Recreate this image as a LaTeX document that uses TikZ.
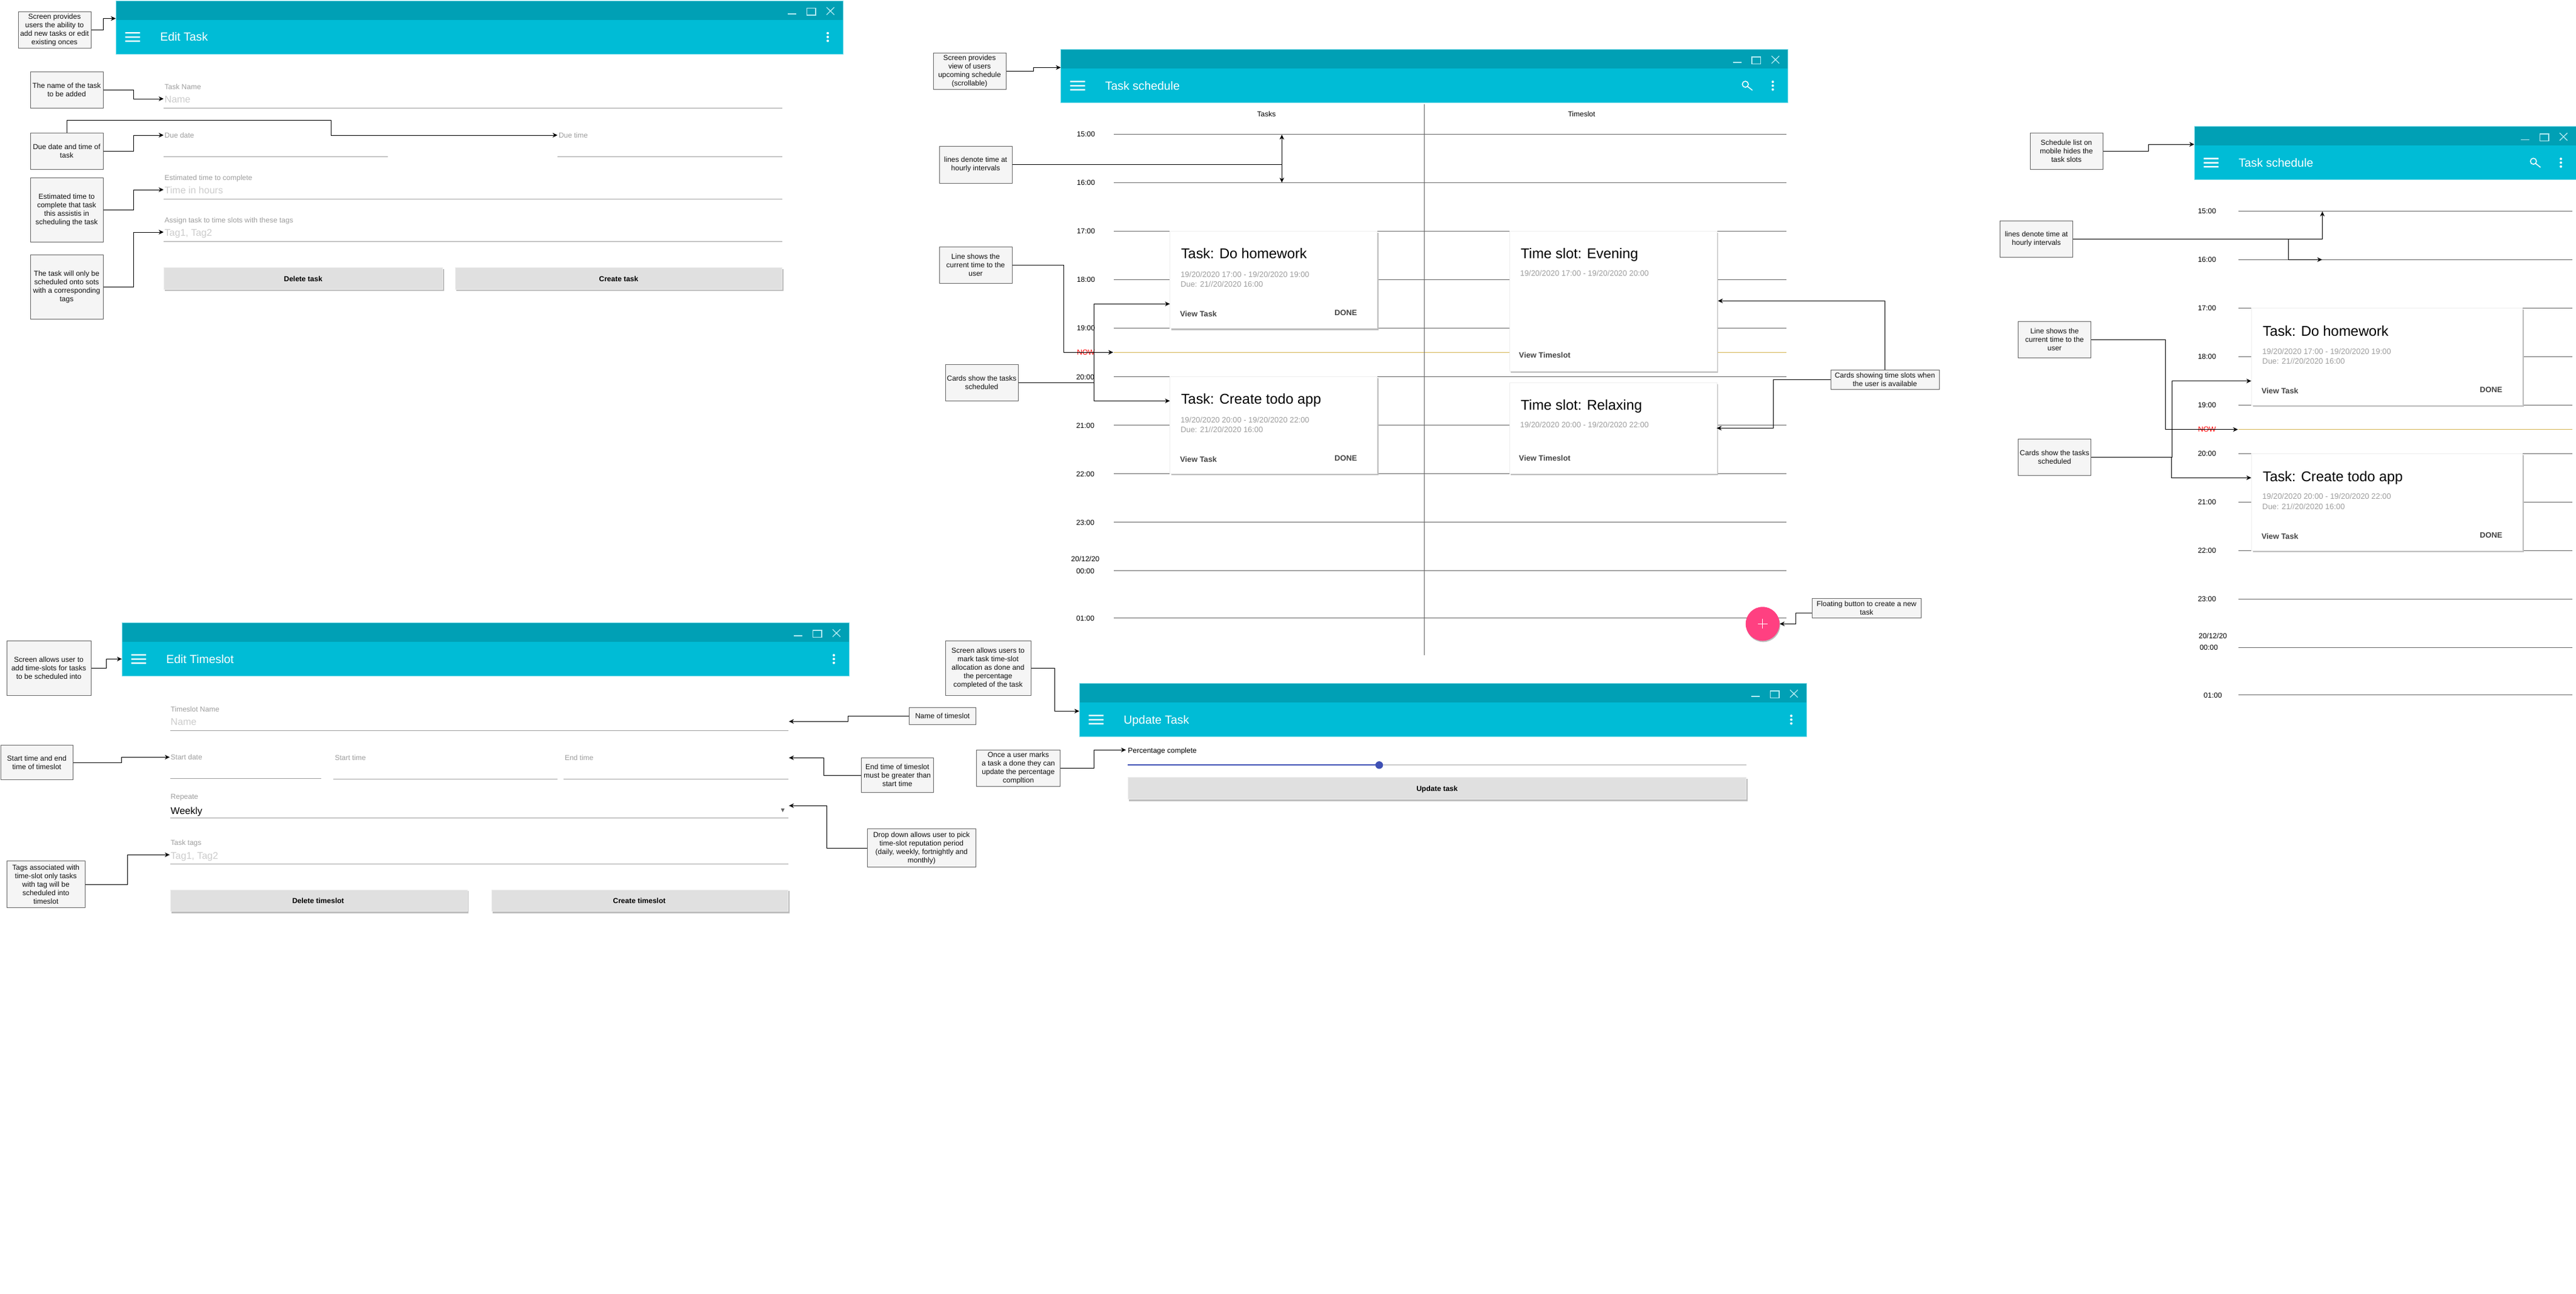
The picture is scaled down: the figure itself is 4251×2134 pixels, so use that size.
\documentclass[tikz,border=0pt]{standalone}
\usepackage{fontspec}
\setmainfont{Liberation Sans}
\usetikzlibrary{arrows.meta}
\definecolor{barDark}{HTML}{00A0B5}
\definecolor{barLight}{HTML}{00BCD6}
\definecolor{barEdge}{HTML}{80DEEA}
\definecolor{winIcon}{HTML}{B2EBF2}
\definecolor{noteFill}{HTML}{F5F5F5}
\definecolor{noteLine}{HTML}{666666}
\definecolor{hourLine}{HTML}{666666}
\definecolor{nowLine}{HTML}{D6B656}
\definecolor{labelGrey}{HTML}{9E9E9E}
\definecolor{holdGrey}{HTML}{CCCCCC}
\definecolor{shadeGrey}{HTML}{BDBDBD}
\definecolor{btnGrey}{HTML}{E0E0E0}
\definecolor{cardEdge}{HTML}{EEEEEE}
\definecolor{actionGrey}{HTML}{444444}
\definecolor{fabPink}{HTML}{FF4081}
\definecolor{slideBlue}{HTML}{3F51B5}
\definecolor{noteText}{HTML}{111111}
\tikzset{
  conn/.style={draw=black,line width=1pt,-{Stealth[length=8pt,width=7.5pt,inset=2.5pt]}},
  note/.style={draw=noteLine,fill=noteFill,line width=1pt,inner sep=0pt,align=center,text=noteText,
    font=\fontsize{12}{14}\selectfont},
  hourrule/.style={draw=hourLine,line width=1pt},
  fieldrule/.style={draw=labelGrey,line width=1pt},
  txt/.style={inner sep=0pt,outer sep=0pt}
}
\newcount\lblc
\newcommand\lbl[5]{\global\advance\lblc by 1
  \pgfmathsetmacro\by{#2+0.36*#3}
  \node[txt,anchor=base west,text=#4,font=\fontsize{#3}{#3}\selectfont,name=lb\the\lblc] at (#1,\by) {#5};}
\newcommand\clbl[5]{\global\advance\lblc by 1
  \pgfmathsetmacro\by{#2+0.36*#3}
  \node[txt,anchor=base,text=#4,font=\fontsize{#3}{#3}\selectfont,name=lb\the\lblc] at (#1,\by) {#5};}
\newcommand\callout[6]{\pgfmathsetmacro\cw{#4-#2}\pgfmathsetmacro\ch{#5-#3}
  \node[note,minimum width=\cw pt,minimum height=\ch pt] (#1) at ({(#2+#4)/2},{(#3+#5)/2}) {#6};}
% app bar: name, left, top, width, title, search(1/0)
\newcommand\appbar[6]{\pgfmathsetmacro\xr{#2+#4}\pgfmathsetmacro\yb{#3+88}\pgfmathsetmacro\ym{#3+32}
  \fill[barLight] (#2,#3) rectangle (\xr,\yb);
  \fill[barDark] (#2,#3) rectangle (\xr,\ym);
  \draw[barEdge,line width=1pt] (#2,#3) rectangle (\xr,\yb);
  \begin{scope}[shift={(\xr,#3)}]
    \draw[winIcon,line width=1.7pt] (-91,22) -- (-76.6,22);
    \draw[winIcon,line width=1.5pt] (-59.6,12.7) rectangle (-45,24);
    \draw[winIcon,line width=1.3pt] (-27,11) -- (-14.3,23.4) (-14.3,11) -- (-27,23.4);
    \fill[white] (-25,53.7) circle (2) (-25,60) circle (2) (-25,66.4) circle (2);
    \ifnum#6=1
      \draw[white,line width=1.5pt] (-70.3,57.7) circle (5);
      \draw[white,line width=1.5pt] (-66.7,61.3) -- (-58.6,67.7);
    \fi
  \end{scope}
  \begin{scope}[shift={(#2,#3)}]
    \fill[white] (15.6,52) rectangle (40,54.4) (15.6,59) rectangle (40,61.4) (15.6,65.5) rectangle (40,68);
  \end{scope}
  \pgfmathsetmacro\tx{#2+73.4}\pgfmathsetmacro\ty{#3+60}
  \lbl{\tx}{\ty}{19.4}{white}{#5}
}
\newcommand\card[4]{\pgfmathsetmacro\sa{#1+2}\pgfmathsetmacro\sb{#2+2.5}\pgfmathsetmacro\sc{#3+2}\pgfmathsetmacro\sd{#4+2.8}
  \fill[shadeGrey] (\sa,\sb) rectangle (\sc,\sd);
  \draw[cardEdge,fill=white,line width=1pt] (#1,#2) rectangle (#3,#4);}
\newcommand\button[6]{\pgfmathsetmacro\sa{#1+2}\pgfmathsetmacro\sb{#2+2}\pgfmathsetmacro\sc{#3+2}\pgfmathsetmacro\sd{#4+3.2}
  \fill[shadeGrey] (\sa,\sb) rectangle (\sc,\sd);
  \draw[cardEdge,fill=btnGrey,line width=1pt] (#1,#2) rectangle (#3,#4);
  \pgfmathsetmacro\byy{(#2+#4)/2+0.7}
  \clbl{#5}{\byy}{12}{black}{\bfseries #6}}
\begin{document}
\begin{tikzpicture}[x=1pt,y=-1pt]
\useasboundingbox (0,0) rectangle (4251,2134);
\fill[white] (0,0) rectangle (4251,2134);

%================ Edit Task
\appbar{barA}{191}{1}{1200}{Edit Task}{0}
\lbl{271.7}{143}{12}{labelGrey}{Task Name}
\lbl{271.7}{164}{16}{holdGrey}{Name}
\draw[fieldrule] (270,178) -- (1290.8,178);
\lbl{271.7}{223}{12}{labelGrey}{Due date}
\draw[fieldrule] (270,258) -- (640.4,258);
\lbl{922}{223}{12}{labelGrey}{Due time}
\draw[fieldrule] (920,258) -- (1290.8,258);
\lbl{271.7}{293}{12}{labelGrey}{Estimated time to complete}
\lbl{271.7}{314}{16}{holdGrey}{Time in hours}
\draw[fieldrule] (270,328) -- (1290.8,328);
\lbl{271.7}{363}{12}{labelGrey}{Assign task to time slots with these tags}
\lbl{271.7}{384}{16}{holdGrey}{Tag1, Tag2}
\draw[fieldrule] (270,398) -- (1290.8,398);
\button{270.3}{441.7}{730.7}{477}{500.3}{Delete task}
\button{751}{441.7}{1290.8}{477}{1021}{Create task}

\callout{nEditTask}{30}{19}{150}{79}{Screen provides\\users the ability to\\add new tasks or edit\\existing onces}
\callout{nTaskName}{50}{118}{170}{178}{The name of the task\\to be added}
\callout{nDue}{50}{219}{170}{279}{Due date and time of\\task}
\callout{nEst}{50}{293}{170}{399}{Estimated time to\\complete that task\\this assistis in\\scheduling the task}
\callout{nTags}{50}{420}{170}{526}{The task will only be\\scheduled onto sots\\with a corresponding\\tags}
\coordinate (tBarA) at (191,30.5);
\coordinate (tName) at (270,163);
\coordinate (tDueDate) at (270,223);
\coordinate (tDueTime) at (920,223);
\coordinate (tEst) at (270,313);
\coordinate (tTags) at (270,383);
\draw[conn] (nEditTask.east) -- ++(20,0) |- (tBarA);
\draw[conn] (nTaskName.east) -- ++(50,0) |- (tName);
\draw[conn] (nDue.east) -- ++(50,0) |- (tDueDate);
\draw[conn] (nDue.north) -- ++(0,-20) -- ++(436,0) |- (tDueTime);
\draw[conn] (nEst.east) -- ++(50,0) |- (tEst);
\draw[conn] (nTags.east) -- ++(50,0) |- (tTags);

%================ Task schedule (desktop)
\foreach \hy in {221.7,301.7,381.7,461.5,541.7,621.5,701.5,781.5,861.5,941.5,1019.5}
  {\draw[hourrule] (1838,\hy) -- (2948,\hy);}
\draw[nowLine,line width=1pt] (1838,581.3) -- (2948,581.3);
\draw[hourrule] (2350.5,171.5) -- (2350.5,1081);
\appbar{barB}{1750.5}{81.3}{1200}{Task schedule}{1}
\clbl{2090}{188.6}{12}{black}{Tasks}
\clbl{2610}{188.6}{12}{black}{Timeslot}
\clbl{1792}{221.4}{12}{black}{15:00}
\clbl{1792}{301.4}{12}{black}{16:00}
\clbl{1792}{381.4}{12}{black}{17:00}
\clbl{1792}{461.4}{12}{black}{18:00}
\clbl{1792}{541.4}{12}{black}{19:00}
\clbl{1792}{581.4}{12}{red}{NOW}
\clbl{1791}{621.8}{12}{black}{20:00}
\clbl{1791}{701.8}{12}{black}{21:00}
\clbl{1791}{781.8}{12}{black}{22:00}
\clbl{1791}{861.8}{12}{black}{23:00}
\clbl{1791}{921.8}{12}{black}{20/12/20}
\clbl{1791}{941.8}{12}{black}{00:00}
\clbl{1791}{1019.8}{12}{black}{01:00}

\card{1930.7}{381.7}{2272.7}{541.7}
\lbl{1949}{418}{23.4}{black}{Task: Do homework}
\lbl{1948.3}{452.7}{12.9}{labelGrey}{19/20/2020 17:00 - 19/20/2020 19:00}
\lbl{1948.3}{468.7}{12.9}{labelGrey}{Due: 21//20/2020 16:00}
\lbl{1947.3}{517.7}{12.8}{actionGrey}{\bfseries View Task}
\lbl{2202.3}{515.7}{12.8}{actionGrey}{\bfseries DONE}

\card{2491}{381.7}{2833}{612}
\lbl{2509.6}{418}{23.4}{black}{Time slot: Evening}
\lbl{2508.6}{450.7}{12.9}{labelGrey}{19/20/2020 17:00 - 19/20/2020 20:00}
\lbl{2506.7}{585.7}{12.8}{actionGrey}{\bfseries View Timeslot}

\card{1930.7}{621.5}{2272.7}{781.5}
\lbl{1949}{658.5}{23.4}{black}{Task: Create todo app}
\lbl{1948.3}{692.9}{12.9}{labelGrey}{19/20/2020 20:00 - 19/20/2020 22:00}
\lbl{1948.3}{709}{12.9}{labelGrey}{Due: 21//20/2020 16:00}
\lbl{1947.3}{757.9}{12.8}{actionGrey}{\bfseries View Task}
\lbl{2202.3}{755.7}{12.8}{actionGrey}{\bfseries DONE}

\card{2491}{631.5}{2833}{781.5}
\lbl{2509.6}{668.5}{23.4}{black}{Time slot: Relaxing}
\lbl{2508.6}{700.7}{12.9}{labelGrey}{19/20/2020 20:00 - 19/20/2020 22:00}
\lbl{2506.7}{755.7}{12.8}{actionGrey}{\bfseries View Timeslot}

\fill[shadeGrey] (2909.7,1031.3) circle (28);
\node[circle,fill=fabPink,minimum size=56pt,inner sep=0pt] (fab) at (2908.7,1029.3) {};
\draw[white,line width=1.4pt] (2900.7,1029.3) -- (2916.7,1029.3) (2908.7,1021.3) -- (2908.7,1037.3);

\callout{nSched}{1540}{87.5}{1660}{147.5}{Screen provides\\view of users\\upcoming schedule\\(scrollable)}
\callout{nHours}{1550}{241}{1670}{302}{lines denote time at\\hourly intervals}
\callout{nNow}{1550}{407.5}{1670}{467.5}{Line shows the\\current time to the\\user}
\callout{nCards}{1560}{601.5}{1680}{661.5}{Cards show the tasks\\scheduled}
\callout{nSlots}{3021}{610.5}{3200}{642}{Cards showing time slots when\\the user is available}
\callout{nFab}{2990}{987.3}{3170.5}{1019.3}{Floating button to create a new\\task}
\coordinate (tBarB) at (1750.5,111.4);
\coordinate (tHourUp) at (2115.3,222.2);
\coordinate (tHourDown) at (2115.3,301.2);
\coordinate (tNow) at (1837,581.3);
\coordinate (tCardDo) at (1930.5,501.4);
\coordinate (tCardTodo) at (1930.5,661.4);
\coordinate (tCardEve) at (2835,496.4);
\coordinate (tCardRel) at (2833,706.4);
\coordinate (fabIn) at (2990,1011.3);
\draw[conn] (nSched.east) -- ++(45,0) |- (tBarB);
\draw[conn] (nHours.east) -| (tHourUp);
\draw[conn] (nHours.east) -| (tHourDown);
\draw[conn] (nNow.east) -- ++(84.5,0) |- (tNow);
\draw[conn] (nCards.east) -- ++(125.4,0) |- (tCardDo);
\draw[conn] (nCards.east) -- ++(125.4,0) |- (tCardTodo);
\draw[conn] (nSlots.north) |- (tCardEve);
\draw[conn] (nSlots.west) -- ++(-94,0) |- (tCardRel);
\draw[conn] (fabIn) -- ++(-26.3,0) |- (fab.east);

%================ Mobile schedule
\foreach \hy in {348.4,428.4,508.4,588.4,668.4,748.4,828.4,908.4,988.4,1068.4,1146.4}
  {\draw[hourrule] (3694.4,\hy) -- (4245,\hy);}
\draw[nowLine,line width=1pt] (3694.4,708.6) -- (4245,708.6);
\appbar{barC}{3621}{208.4}{630}{Task schedule}{1}
\clbl{3642}{348.4}{12}{black}{15:00}
\clbl{3642}{428.4}{12}{black}{16:00}
\clbl{3642}{508.4}{12}{black}{17:00}
\clbl{3642}{588.4}{12}{black}{18:00}
\clbl{3642}{668.4}{12}{black}{19:00}
\clbl{3642}{708.6}{12}{red}{NOW}
\clbl{3642}{748.4}{12}{black}{20:00}
\clbl{3642}{828.4}{12}{black}{21:00}
\clbl{3642}{908.4}{12}{black}{22:00}
\clbl{3642}{988.4}{12}{black}{23:00}
\clbl{3651.7}{1048.7}{12}{black}{20/12/20}
\clbl{3645}{1068.4}{12}{black}{00:00}
\clbl{3651.7}{1147}{12}{black}{01:00}

\card{3715.5}{508.4}{4162.5}{668.4}
\lbl{3734}{546}{23.4}{black}{Task: Do homework}
\lbl{3733.4}{579.6}{12.9}{labelGrey}{19/20/2020 17:00 - 19/20/2020 19:00}
\lbl{3733.4}{595.7}{12.9}{labelGrey}{Due: 21//20/2020 16:00}
\lbl{3732}{644.6}{12.8}{actionGrey}{\bfseries View Task}
\lbl{4092.3}{642.7}{12.8}{actionGrey}{\bfseries DONE}

\card{3715.5}{748.4}{4162.5}{908.4}
\lbl{3734}{785.7}{23.4}{black}{Task: Create todo app}
\lbl{3733.4}{819.3}{12.9}{labelGrey}{19/20/2020 20:00 - 19/20/2020 22:00}
\lbl{3733.4}{835.7}{12.9}{labelGrey}{Due: 21//20/2020 16:00}
\lbl{3732}{884.7}{12.8}{actionGrey}{\bfseries View Task}
\lbl{4092.3}{882.7}{12.8}{actionGrey}{\bfseries DONE}

\callout{nMobList}{3350}{219.5}{3470}{279.5}{Schedule list on\\mobile hides the\\task slots}
\callout{nMobHours}{3300.5}{364.5}{3420.5}{424.5}{lines denote time at\\hourly intervals}
\callout{nMobNow}{3330.5}{530.5}{3450.5}{590.5}{Line shows the\\current time to the\\user}
\callout{nMobCards}{3330.5}{724.5}{3450.5}{784.5}{Cards show the tasks\\scheduled}
\coordinate (tBarC) at (3621,238.2);
\coordinate (tMobUp) at (3832.4,349);
\coordinate (tMobDown) at (3832,428.4);
\coordinate (tMobNow) at (3693,708.6);
\coordinate (tMobDo) at (3715,628.6);
\coordinate (tMobTodo) at (3715,788.3);
\draw[conn] (nMobList.east) -- ++(75.2,0) |- (tBarC);
\draw[conn] (nMobHours.east) -| (tMobUp);
\draw[conn] (nMobHours.east) -- ++(355,0) |- (tMobDown);
\draw[conn] (nMobNow.east) -- ++(122,0) |- (tMobNow);
\draw[conn] (nMobCards.east) -- ++(133.5,0) |- (tMobDo);
\draw[conn] (nMobCards.east) -- ++(132.2,0) |- (tMobTodo);

%================ Edit Timeslot
\appbar{barD}{201}{1027.3}{1200}{Edit Timeslot}{0}
\lbl{281.7}{1170}{12}{labelGrey}{Timeslot Name}
\lbl{281.7}{1190.7}{16}{holdGrey}{Name}
\draw[fieldrule] (281,1205.3) -- (1300.7,1205.3);
\lbl{281.7}{1249}{12}{labelGrey}{Start date}
\draw[fieldrule] (281,1284.3) -- (530,1284.3);
\lbl{552.5}{1249.7}{12}{labelGrey}{Start time}
\draw[fieldrule] (550,1285.7) -- (920.3,1285.7);
\lbl{932}{1249.7}{12}{labelGrey}{End time}
\draw[fieldrule] (930,1285.7) -- (1300.7,1285.7);
\lbl{281.7}{1314}{12}{labelGrey}{Repeate}
\lbl{281.7}{1338}{16}{black}{Weekly}
\draw[fieldrule] (281,1349.7) -- (1300.7,1349.7);
\fill[hourLine] (1288.7,1334) -- (1294.7,1334) -- (1291.7,1340) -- cycle;
\lbl{281.7}{1389.7}{12}{labelGrey}{Task tags}
\lbl{281.7}{1411.3}{16}{holdGrey}{Tag1, Tag2}
\draw[fieldrule] (281,1425.3) -- (1300.7,1425.3);
\button{281}{1468}{771}{1503.5}{525}{Delete timeslot}
\button{811}{1468}{1300.7}{1503.5}{1055}{Create timeslot}

\callout{nSlotScreen}{11}{1057.5}{150}{1147.5}{Screen allows user to\\add time-slots for tasks\\to be scheduled into}
\callout{nSlotStart}{1}{1229.5}{120.5}{1286.5}{Start time and end\\time of timeslot}
\callout{nSlotTags}{11}{1420.5}{140.5}{1497.5}{Tags associated with\\time-slot only tasks\\with tag will be\\scheduled into\\timeslot}
\callout{nSlotName}{1500.5}{1167.5}{1610}{1195.5}{Name of timeslot}
\callout{nSlotEnd}{1421.5}{1250.5}{1540}{1307.5}{End time of timeslot\\must be greater than\\start time}
\callout{nSlotDrop}{1431.5}{1367.5}{1610}{1430.5}{Drop down allows user to pick\\time-slot reputation period\\(daily, weekly, fortnightly and\\monthly)}
\coordinate (tBarD) at (201,1087.3);
\coordinate (tSlotStart) at (280,1249.3);
\coordinate (tSlotTags) at (280,1410.3);
\coordinate (tSlotName) at (1302,1190.3);
\coordinate (tSlotEnd) at (1302,1250.3);
\coordinate (tSlotDrop) at (1302,1329.3);
\draw[conn] (nSlotScreen.east) -- ++(24.8,0) |- (tBarD);
\draw[conn] (nSlotStart.east) -- ++(79.5,0) |- (tSlotStart);
\draw[conn] (nSlotTags.east) -- ++(69.6,0) |- (tSlotTags);
\draw[conn] (nSlotName.west) -- ++(-101,0) |- (tSlotName);
\draw[conn] (nSlotEnd.west) -- ++(-61.5,0) |- (tSlotEnd);
\draw[conn] (nSlotDrop.west) -- ++(-67,0) |- (tSlotDrop);

%================ Update Task
\appbar{barE}{1781}{1127.3}{1200}{Update Task}{0}
\lbl{1861.4}{1238}{12}{black}{Percentage complete}
\draw[holdGrey,line width=2pt] (1861.4,1262.3) -- (2881.6,1262.3);
\draw[slideBlue,line width=2pt] (1861.4,1262.3) -- (2276,1262.3);
\node[circle,fill=slideBlue,minimum size=12.5pt,inner sep=0pt] (knob) at (2276,1262.3) {};
\button{1861.4}{1282.7}{2881.6}{1318.3}{2371.5}{Update task}
\callout{nUpdScreen}{1560}{1057}{1701}{1147.5}{Screen allows users to\\mark task time-slot\\allocation as done and\\the percentage\\completed of the task}
\callout{nUpdOnce}{1611.5}{1237.5}{1749.5}{1297.5}{Once a user marks\\a task a done they can\\update the percentage\\compltion}
\coordinate (tBarE) at (1781,1173.3);
\coordinate (tPct) at (1858,1237.3);
\draw[conn] (nUpdScreen.east) -- ++(38.6,0) |- (tBarE);
\draw[conn] (nUpdOnce.east) -- ++(55.9,0) |- (tPct);
\end{tikzpicture}
\end{document}
